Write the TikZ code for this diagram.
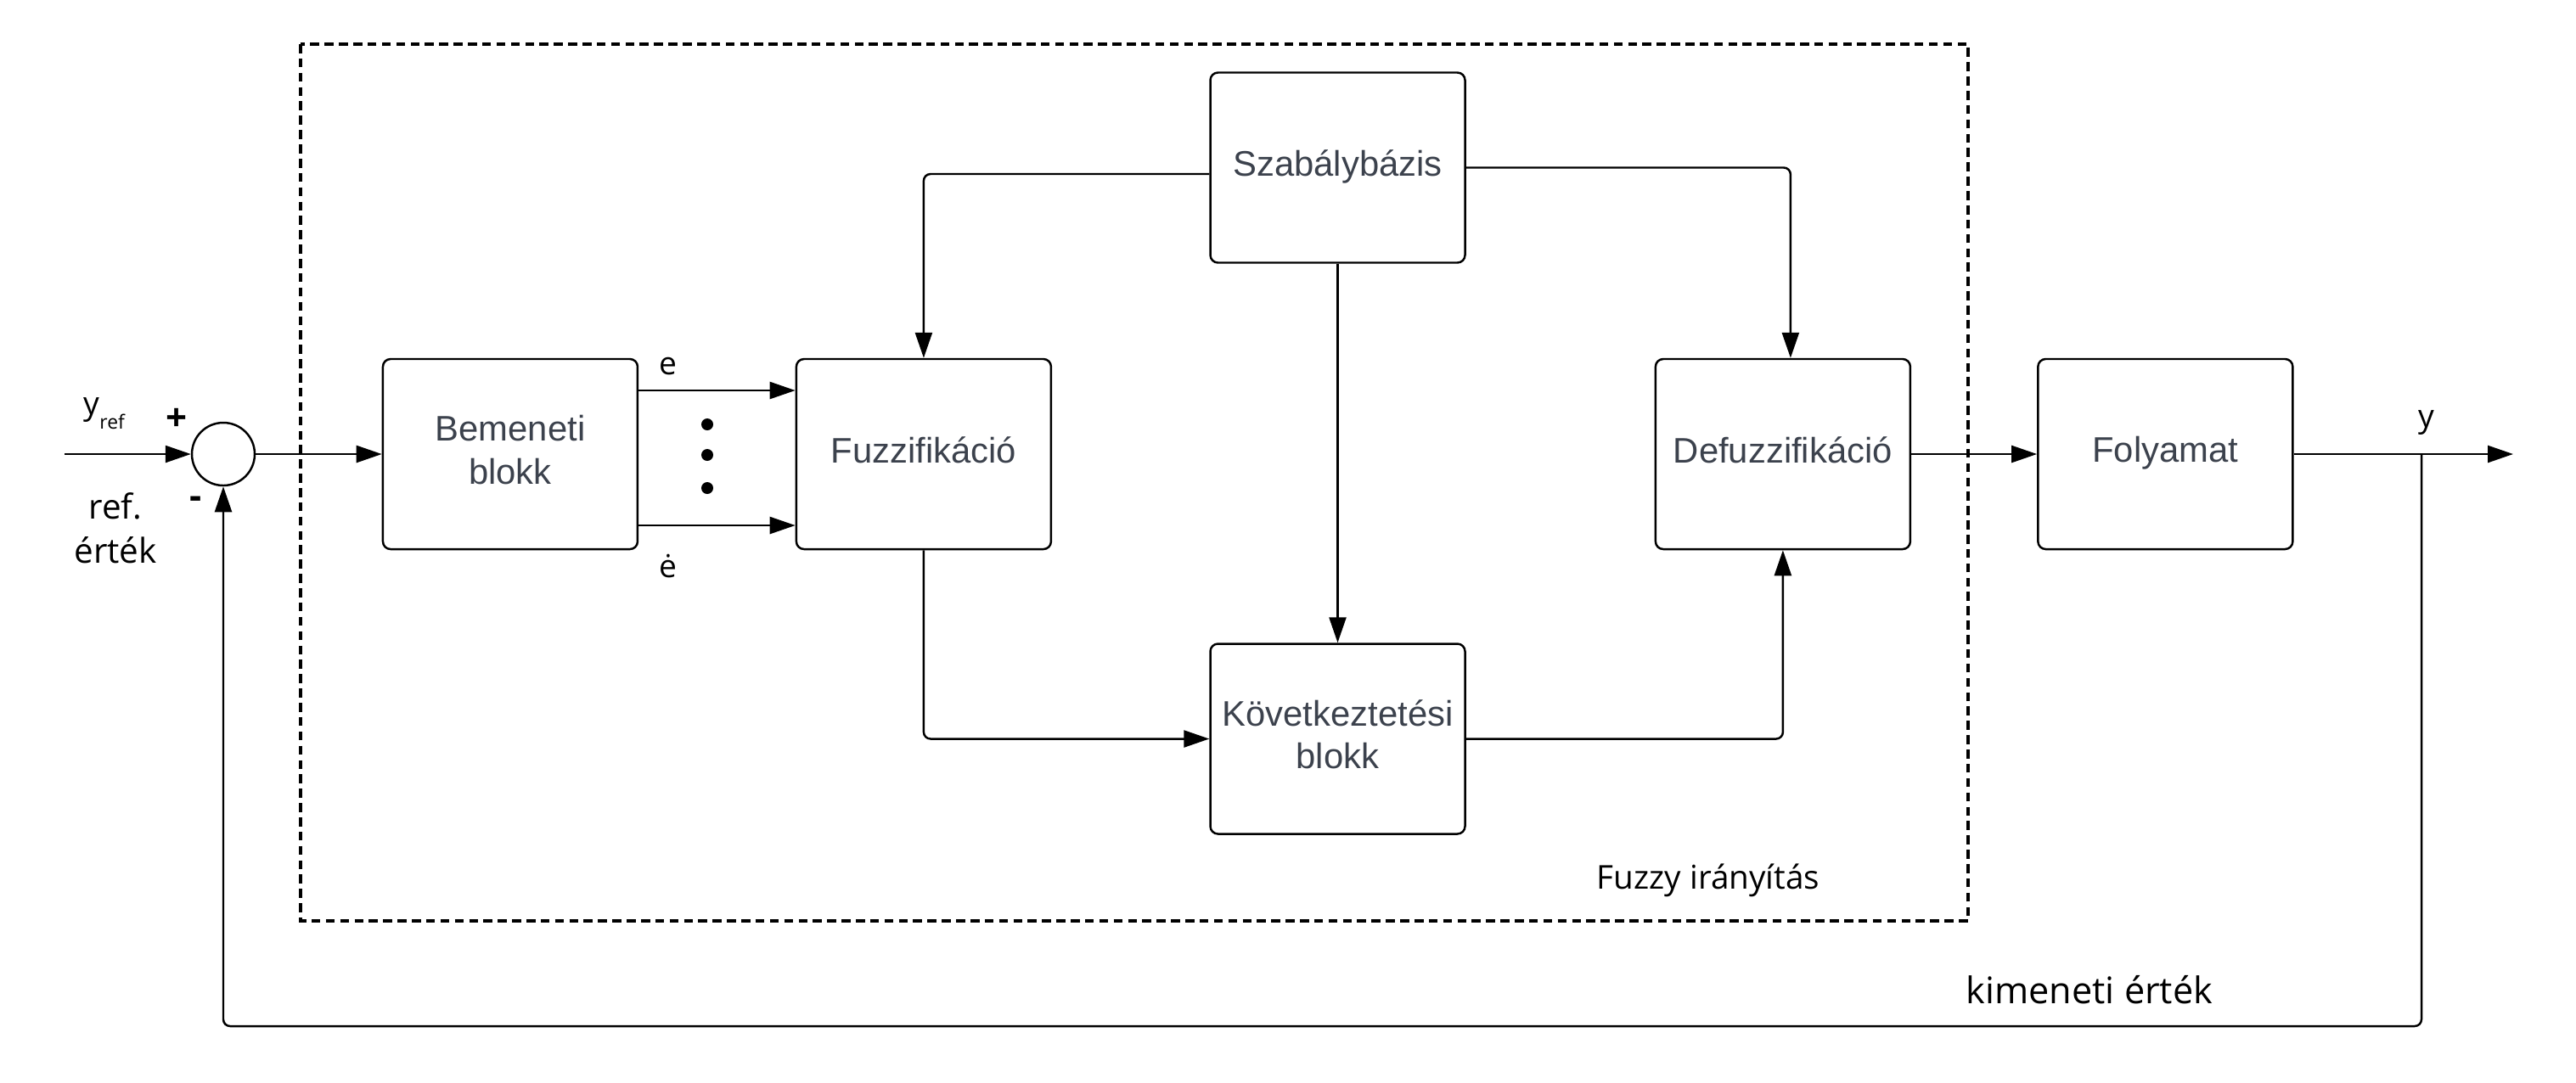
\documentclass[tikz,border=0pt]{standalone}
\usepackage{fontspec}
\setmainfont{Open Sans}
\newfontfamily\blockfont{Liberation Sans}
\usepackage{tikz}
\usetikzlibrary{arrows.meta,positioning}
\definecolor{blocktext}{RGB}{60,66,77}

\begin{document}
\begin{tikzpicture}
[node distance = 1cm, >={Triangle[length=3mm,width=2mm]},
% STYLES
every node/.style={inner sep=0pt},
% The block style is used to draw the blocks of the controller
block/.style={rectangle, draw, rounded corners=0.09cm, line width=0.7pt, minimum width=3cm, minimum height=2.24cm, align=center, text depth=3pt, text=blocktext, font=\blockfont\fontsize{11.9pt}{14.4pt}\selectfont},
% The sum style is used to draw the summing point
sum/.style={circle, draw, line width=0.7pt, minimum size=0.74cm},
% The sig style is used to write the signals' names
sig/.style={font=\fontsize{10.6pt}{12pt}\selectfont},
bigsig/.style={align=center, font=\fontsize{11.5pt}{14.8pt}\selectfont},
sign/.style={font=\bfseries\fontsize{12.5pt}{13pt}\selectfont},
link/.style={->, line width=0.7pt, rounded corners=0.08cm}]

\useasboundingbox (0,0) rectangle (30.34,-12.75);

% Draw blocks
\node [sum] (sum) at (2.63,-5.35) {};
\node [block, right=1.485cm of sum] (bemeneti) {Bemeneti\\blokk};
\node [block, right=1.845cm of bemeneti] (fuzz) {Fuzzifikáció};
\node [block, right=7.095cm of fuzz] (defuzz) {Defuzzifikáció};
\node [block, right=1.48cm of defuzz] (folyamat) {Folyamat};
\node [block] (szabaly) at (15.755,-1.975) {Szabálybázis};
\node [block] (kovetk) at (15.755,-8.705) {Következtetési\\blokk};

% Fuzzy controller frame
\draw [line width=1.1pt, dash pattern=on 3pt off 1.8pt] (3.54,-0.52) rectangle (23.18,-10.85);
\node [font=\fontsize{11pt}{12pt}\selectfont] (frame-label) at (20.12,-10.37) {Fuzzy irányítás};

%%%%%%%%%%%%%%%
% Signals

\coordinate (in) at (0.76,-5.35);
\coordinate (out) at (29.60,-5.35);
\coordinate (branch) at (28.52,-5.35);
\coordinate (back) at (28.52,-12.09);
\coordinate (e-start) at ([yshift=0.75cm]bemeneti.east);
\coordinate (de-start) at ([yshift=-0.84cm]bemeneti.east);

\node [sig, anchor=base west] (yref) at (0.98,-4.88) {y\raisebox{-5pt}{\fontsize{6.5pt}{7pt}\selectfont ref}};
\node [sign] (plus) at (2.08,-4.94) {+};
\node [sign] (minus) at (2.31,-5.92) {-};
\node [bigsig] (refval) at (1.36,-6.22) {ref.\\érték};
\node [sig] (e) at (7.87,-4.32) {e};
\node [sig] (de) at (7.87,-6.67) {ė};
\node [sig] (y) at (28.58,-4.98) {y};
\node [bigsig, font=\fontsize{12.3pt}{14pt}\selectfont] (kimeneti) at (24.61,-11.66) {kimeneti érték};

% dots between e and de
\foreach \y in {-5.00,-5.36,-5.75}
  \fill (8.33,\y) circle (0.07);

%%%%%%%%%%%%%%%%

% Draw the links between blocks
\draw [link] (in) -- (sum);
\draw [link] (sum) -- (bemeneti);
\draw [link] (e-start) -- (e-start -| fuzz.west);
\draw [link] (de-start) -- (de-start -| fuzz.west);
\draw [link] ([yshift=-0.075cm]szabaly.west) -| (fuzz.north);
\draw [link] (szabaly.east) -| ([xshift=0.09cm]defuzz.north);
\draw [link] (szabaly) -- (kovetk);
\draw [link] (fuzz.south) |- (kovetk.west);
\draw [link] (kovetk.east) -| (defuzz.south);
\draw [link] (defuzz) -- (folyamat);
\draw [link] (folyamat) -- (out);
\draw [link] (branch) -- (back) -| (sum.south);

\end{tikzpicture}
\end{document}
